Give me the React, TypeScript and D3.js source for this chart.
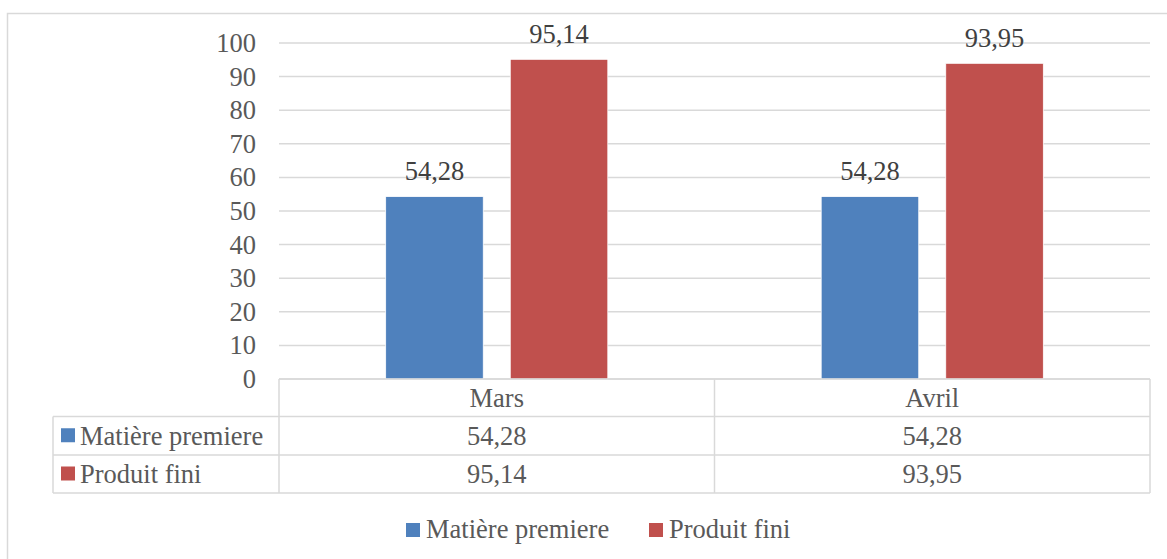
import React from "react";
import * as d3 from "d3";

const categories = ["Mars", "Avril"];
const seriesNames = ["Matière premiere", "Produit fini"];
const matierePremiere = [54.28, 54.28];
const produitFini = [95.14, 93.95];
const yTicks = [0, 10, 20, 30, 40, 50, 60, 70, 80, 90, 100];
const colors = ["#4f81bd", "#c0504d"];

const W = 1167;
const H = 559;
const FONT = "Liberation Serif";
const FS = 26.5;
const TEXT = "#595959";
const GRID = "#d9d9d9";

const fmt = (v: number) => v.toFixed(2).replace(".", ",");

export default function App() {
  const series = [matierePremiere, produitFini];
  const left = 279;
  const right = 1150;
  const y = d3.scaleLinear().domain([0, 100]).range([379, 43]);
  const x0 = d3.scaleBand<string>().domain(categories).range([left, right]).padding(0);
  const bw = x0.bandwidth();
  const side = bw * 0.245;
  const x1 = d3
    .scaleBand<string>()
    .domain(seriesNames)
    .range([side, bw - side])
    .paddingInner(0.217)
    .paddingOuter(0);

  const tableLeft = 53;
  const rowH = [379, 416.5, 455, 493];
  const txt = { fontFamily: FONT, fontSize: FS };

  return (
    <svg
      width={W}
      height={H}
      style={{ position: "absolute", left: 0, top: 0, background: "#fff", fontFamily: FONT }}
    >
      {/* chart frame */}
      <rect x={7.5} y={13.5} width={W + 20} height={H + 20} fill="none" stroke={GRID} strokeWidth={1.5} />

      {/* gridlines and value axis labels */}
      {yTicks.map((t) => (
        <g key={t}>
          <line x1={left} x2={right} y1={y(t)} y2={y(t)} stroke={GRID} strokeWidth={1.5} />
          <text x={256} y={y(t) + 9} textAnchor="end" style={txt} fill={TEXT}>
            {t}
          </text>
        </g>
      ))}

      {/* bars with value labels */}
      {categories.map((c, ci) =>
        seriesNames.map((s, si) => {
          const v = series[si][ci];
          const bx = (x0(c) ?? 0) + (x1(s) ?? 0);
          return (
            <g key={c + s}>
              <rect
                x={bx}
                y={y(v)}
                width={x1.bandwidth()}
                height={y(0) - y(v)}
                fill={colors[si]}
                stroke="#fff"
                strokeWidth={0.75}
              />
              <text
                x={bx + x1.bandwidth() / 2}
                y={y(v) - 16.5}
                textAnchor="middle"
                style={txt}
                fill="#404040"
              >
                {fmt(v)}
              </text>
            </g>
          );
        })
      )}

      {/* data table */}
      <g stroke={GRID} strokeWidth={1.5} fill="none">
        <line x1={left} x2={right} y1={rowH[0]} y2={rowH[0]} />
        <line x1={tableLeft} x2={right} y1={rowH[1]} y2={rowH[1]} />
        <line x1={tableLeft} x2={right} y1={rowH[2]} y2={rowH[2]} />
        <line x1={tableLeft} x2={right} y1={rowH[3]} y2={rowH[3]} />
        <line x1={tableLeft} x2={tableLeft} y1={rowH[1]} y2={rowH[3]} />
        {[left, ...categories.map((c) => (x0(c) ?? 0) + bw)].map((xx, i) => (
          <line key={i} x1={xx} x2={xx} y1={rowH[0]} y2={rowH[3]} />
        ))}
      </g>
      {categories.map((c, ci) => {
        const cx = (x0(c) ?? 0) + bw / 2;
        return (
          <g key={c} fill={TEXT} textAnchor="middle">
            <text x={cx} y={(rowH[0] + rowH[1]) / 2 + 9} style={txt}>{c}</text>
            {series.map((vals, si) => (
              <text key={si} x={cx} y={(rowH[si + 1] + rowH[si + 2]) / 2 + 9} style={txt}>
                {fmt(vals[ci])}
              </text>
            ))}
          </g>
        );
      })}
      {seriesNames.map((s, si) => {
        const cy = (rowH[si + 1] + rowH[si + 2]) / 2;
        return (
          <g key={s}>
            <rect x={61} y={cy - 7.5} width={14} height={14} fill={colors[si]} />
            <text x={80} y={cy + 9} style={txt} fill={TEXT}>
              {s}
            </text>
          </g>
        );
      })}

      {/* legend */}
      {seriesNames.map((s, si) => {
        const lx = [406, 649][si];
        return (
          <g key={"lg" + s}>
            <rect x={lx} y={523} width={14} height={14} fill={colors[si]} />
            <text x={lx + 20} y={538} style={txt} fill={TEXT}>
              {s}
            </text>
          </g>
        );
      })}
    </svg>
  );
}
